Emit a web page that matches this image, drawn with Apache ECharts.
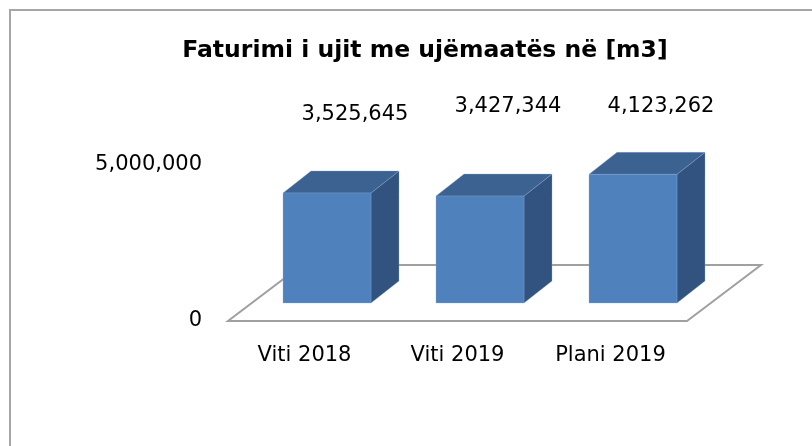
<!DOCTYPE html>
<html>
<head>
<meta charset="utf-8">
<script src="https://cdn.jsdelivr.net/npm/echarts@6/dist/echarts.min.js"></script>
<style>
  html, body { margin: 0; padding: 0; background: #fff; }
  #chart { width: 812px; height: 446px; }
</style>
</head>
<body>
<div id="chart"></div>
<script>
// ---- data ----
const titleText = 'Faturimi i ujit me ujëmaatës në [m3]';
const categories = ['Viti 2018', 'Viti 2019', 'Plani 2019'];
const values = [3525645, 3427344, 4123262];
const axisMin = 0;
const axisMax = 5000000;

// ---- styles ----
const FONT = 'DejaVu Sans';
const FRONT = '#4F81BD', TOP = '#3C6292', SIDE = '#32537F';
const FLOOR_DX = 74, FLOOR_DY = 56;      // floor depth
const SHIFT_X = 22.5, SHIFT_Y = 18;      // bars sit part-way back on the floor
const BAR_DX = 28, BAR_DY = 22;          // bar depth
const BAR_FRAC = 0.575;                  // bar width / category band
const labelLift = [56, 68, 46];          // excel-style label placement above the bar's back top edge

const fmt = v => Number(v).toLocaleString('en-US');

function renderFloor(params, api) {
  const cs = params.coordSys;
  const y0 = api.coord([0, 0])[1];
  const xl = cs.x, xr = cs.x + cs.width;
  return {
    type: 'polygon',
    shape: { points: [[xl, y0], [xr, y0], [xr + FLOOR_DX, y0 - FLOOR_DY], [xl + FLOOR_DX, y0 - FLOOR_DY]] },
    style: { fill: '#fff', stroke: '#A0A0A0', lineWidth: 2 },
    silent: true
  };
}

function renderBar(params, api) {
  const i = api.value(0), v = api.value(1);
  const base = api.coord([i, 0]);
  const top = api.coord([i, v]);
  const band = api.size([1, 0])[0];
  const w = band * BAR_FRAC;
  const cx = base[0] + SHIFT_X;
  const x0 = cx - w / 2, x1 = cx + w / 2;
  const yb = base[1] - SHIFT_Y, yt = top[1] - SHIFT_Y;
  const edge = 'rgba(140,170,215,0.4)';
  return {
    type: 'group',
    children: [
      { type: 'polygon', shape: { points: [[x1, yt], [x1 + BAR_DX, yt - BAR_DY], [x1 + BAR_DX, yb - BAR_DY], [x1, yb]] },
        style: { fill: SIDE, stroke: edge, lineWidth: 0.8 } },
      { type: 'polygon', shape: { points: [[x0, yt], [x1, yt], [x1 + BAR_DX, yt - BAR_DY], [x0 + BAR_DX, yt - BAR_DY]] },
        style: { fill: TOP, stroke: edge, lineWidth: 0.8 } },
      { type: 'rect', shape: { x: x0, y: yt, width: w, height: yb - yt },
        style: { fill: FRONT, stroke: edge, lineWidth: 0.8 } },
      { type: 'text', style: { text: fmt(v), x: cx + BAR_DX, y: yt - BAR_DY - labelLift[i],
        align: 'center', verticalAlign: 'middle', fill: '#000', font: '21px "' + FONT + '"' } }
    ]
  };
}

const chart = echarts.init(document.getElementById('chart'), null, { renderer: 'canvas' });
chart.setOption({
  animation: false,
  backgroundColor: '#fff',
  title: {
    text: titleText, left: 420, top: 34, textAlign: 'center',
    textStyle: { fontFamily: FONT, fontWeight: 'bold', fontSize: 23.5, color: '#000' }
  },
  graphic: [{
    type: 'rect', shape: { x: 10, y: 10, width: 1000, height: 1000 },
    style: { fill: 'none', stroke: '#A6A6A6', lineWidth: 2 }, silent: true, z: 100
  }],
  grid: { left: 228, width: 459, top: 165, height: 156 },
  xAxis: {
    type: 'category', data: categories,
    axisLine: { show: false }, axisTick: { show: false }, splitLine: { show: false },
    axisLabel: { margin: 24, fontFamily: FONT, fontSize: 21, color: '#000' }
  },
  yAxis: {
    type: 'value', min: axisMin, max: axisMax, interval: axisMax - axisMin,
    axisLine: { show: false }, axisTick: { show: false }, splitLine: { show: false },
    axisLabel: { margin: 26, fontFamily: FONT, fontSize: 21, color: '#000', formatter: fmt }
  },
  series: [
    { type: 'custom', renderItem: renderFloor, data: [[0, 0]], z: 1, silent: true },
    { type: 'custom', renderItem: renderBar, data: values.map((v, i) => [i, v]), z: 2, clip: false }
  ]
});
</script>
</body>
</html>
